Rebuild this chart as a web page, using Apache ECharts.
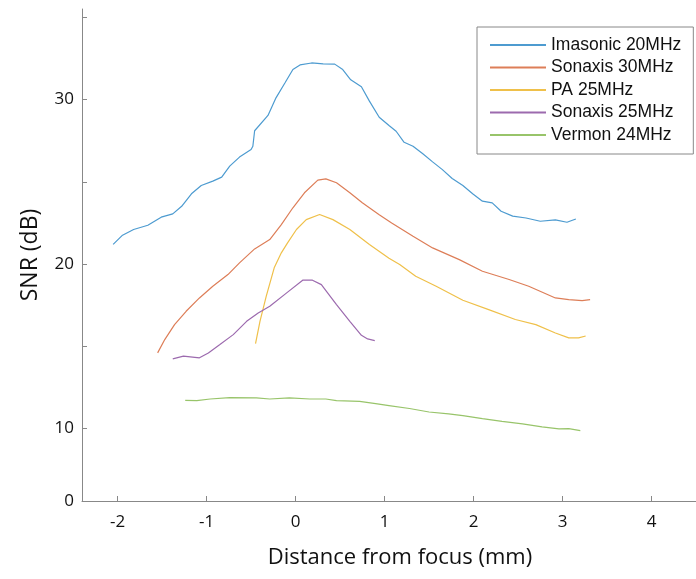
<!DOCTYPE html>
<html>
<head>
<meta charset="utf-8">
<script src="https://cdn.jsdelivr.net/npm/echarts@6/dist/echarts.min.js"></script>
<style>
  html, body { margin: 0; padding: 0; background: #fff; }
  #chart { width: 696px; height: 579px; }
</style>
</head>
<body>
<div id="chart"></div>
<script>
// data, [distance mm, SNR dB]
var imasonic20 = [[-2.05,21.2],[-1.95,21.73],[-1.82,22.1],[-1.66,22.36],[-1.51,22.85],[-1.38,23.05],[-1.28,23.51],
  [-1.17,24.27],[-1.06,24.77],[-0.93,25.04],[-0.83,25.28],[-0.74,25.95],[-0.63,26.5],[-0.5,26.96],[-0.48,27.16],
  [-0.46,28.1],[-0.31,29.03],[-0.22,30.1],[-0.12,31.0],[-0.03,31.82],[0.05,32.1],[0.18,32.22],[0.31,32.16],
  [0.44,32.15],[0.53,31.82],[0.62,31.2],[0.74,30.77],[0.83,29.9],[0.94,28.92],[1.05,28.42],[1.13,28.07],
  [1.22,27.4],[1.32,27.16],[1.43,26.7],[1.54,26.21],[1.65,25.74],[1.76,25.2],[1.88,24.77],[1.99,24.27],
  [2.1,23.82],[2.21,23.72],[2.31,23.21],[2.44,22.91],[2.59,22.8],[2.75,22.6],[2.92,22.68],[3.05,22.54],[3.15,22.74]];
var sonaxis30 = [[-1.55,14.6],[-1.47,15.41],[-1.36,16.32],[-1.23,17.13],[-1.08,17.94],[-0.93,18.65],[-0.76,19.36],
  [-0.63,20.07],[-0.46,20.92],[-0.29,21.49],[-0.16,22.4],[-0.03,23.42],[0.1,24.33],[0.25,25.1],[0.34,25.18],
  [0.46,24.94],[0.61,24.33],[0.75,23.72],[0.94,23.0],[1.08,22.5],[1.32,21.69],[1.54,20.98],[1.84,20.27],
  [2.1,19.56],[2.4,19.06],[2.62,18.65],[2.92,17.94],[3.07,17.84],[3.22,17.78],[3.31,17.84]];
var pa25 = [[-0.45,15.17],[-0.4,16.52],[-0.33,18.04],[-0.24,19.77],[-0.16,20.68],[-0.09,21.29],[0.01,22.1],
  [0.12,22.7],[0.27,23.01],[0.42,22.7],[0.61,22.1],[0.83,21.19],[1.05,20.35],[1.17,19.97],[1.35,19.26],
  [1.58,18.65],[1.88,17.8],[2.17,17.23],[2.47,16.63],[2.7,16.32],[2.92,15.81],[3.07,15.51],[3.18,15.51],[3.26,15.63]];
var sonaxis25 = [[-1.38,14.24],[-1.26,14.4],[-1.08,14.3],[-0.98,14.6],[-0.85,15.11],[-0.7,15.71],[-0.55,16.52],
  [-0.42,17.03],[-0.29,17.43],[-0.1,18.25],[0.08,19.02],[0.19,19.02],[0.29,18.75],[0.46,17.54],[0.61,16.52],
  [0.74,15.67],[0.81,15.45],[0.89,15.35]];
var vermon24 = [[-1.24,11.72],[-1.11,11.7],[-0.96,11.8],[-0.74,11.88],[-0.44,11.87],[-0.29,11.8],[-0.07,11.87],
  [0.16,11.8],[0.34,11.8],[0.46,11.7],[0.72,11.66],[0.9,11.52],[1.05,11.4],[1.28,11.22],[1.5,11.01],[1.72,10.89],
  [1.88,10.79],[2.1,10.61],[2.32,10.44],[2.55,10.29],[2.77,10.1],[2.96,9.98],[3.07,10.0],[3.2,9.88]];

var seriesNames = ['Imasonic 20MHz', 'Sonaxis 30MHz', 'PA 25MHz', 'Sonaxis 25MHz', 'Vermon 24MHz'];
var seriesData = [imasonic20, sonaxis30, pa25, sonaxis25, vermon24];
var colors = ['#4d9bd0', '#dd7e58', '#efc04a', '#9c6aae', '#98c46a'];

var xTicks = [-2, -1, 0, 1, 2, 3, 4];
var yTicks = [10, 15, 20, 25, 30, 35];
// the bottom of the y axis is labelled "0" although it sits near 5.6
var yLabelValues = [5.6, 10, 20, 30];
var yLabels = ['0', '10', '20', '30'];

var chart = echarts.init(document.getElementById('chart'));

var series = [];
for (var i = 0; i < seriesData.length; i++) {
  series.push({
    name: seriesNames[i],
    type: 'line',
    data: seriesData[i],
    symbol: 'none',
    lineStyle: { width: 1.2, color: colors[i] },
    itemStyle: { color: colors[i] }
  });
}

var option = {
  animation: false,
  color: colors,
  grid: { left: 82, right: 0, top: 9, bottom: 78 },
  legend: {
    orient: 'vertical',
    left: 477,
    top: 27,
    itemWidth: 56,
    itemHeight: 14,
    itemGap: 4.5,
    padding: [9, 12, 10, 12],
    borderColor: '#888',
    borderWidth: 1,
    backgroundColor: '#fff',
    itemStyle: { opacity: 0 },
    textStyle: { fontFamily: 'Liberation Sans', fontSize: 17.5, color: '#111' },
    data: seriesNames
  },
  xAxis: {
    type: 'value',
    min: -2.4,
    max: 4.5,
    name: 'Distance from focus (mm)',
    nameLocation: 'middle',
    nameGap: 46,
    nameTextStyle: { fontFamily: 'Open Sans', fontSize: 22, color: '#111', padding: [0, 0, 0, 22] },
    axisLine: { onZero: false, lineStyle: { color: '#888' } },
    axisTick: { inside: true, length: 5, customValues: xTicks, lineStyle: { color: '#888' } },
    axisLabel: { customValues: xTicks, fontFamily: 'Open Sans', fontSize: 17, color: '#111', margin: 13 },
    splitLine: { show: false }
  },
  yAxis: {
    type: 'value',
    min: 5.6,
    max: 35.5,
    name: 'SNR (dB)',
    nameLocation: 'middle',
    nameRotate: 90,
    nameGap: 40,
    nameTextStyle: { fontFamily: 'Open Sans', fontSize: 23, color: '#111' },
    axisLine: { show: true, onZero: false, lineStyle: { color: '#888' } },
    axisTick: { show: true, inside: true, length: 5, customValues: yTicks, lineStyle: { color: '#888' } },
    axisLabel: {
      customValues: yLabelValues,
      fontFamily: 'Open Sans', fontSize: 17, color: '#111', margin: 8,
      formatter: function (v) {
        var k = yLabelValues.indexOf(v);
        return k >= 0 ? yLabels[k] : '';
      }
    },
    splitLine: { show: false }
  },
  series: series
};

chart.setOption(option);
</script>
</body>
</html>
